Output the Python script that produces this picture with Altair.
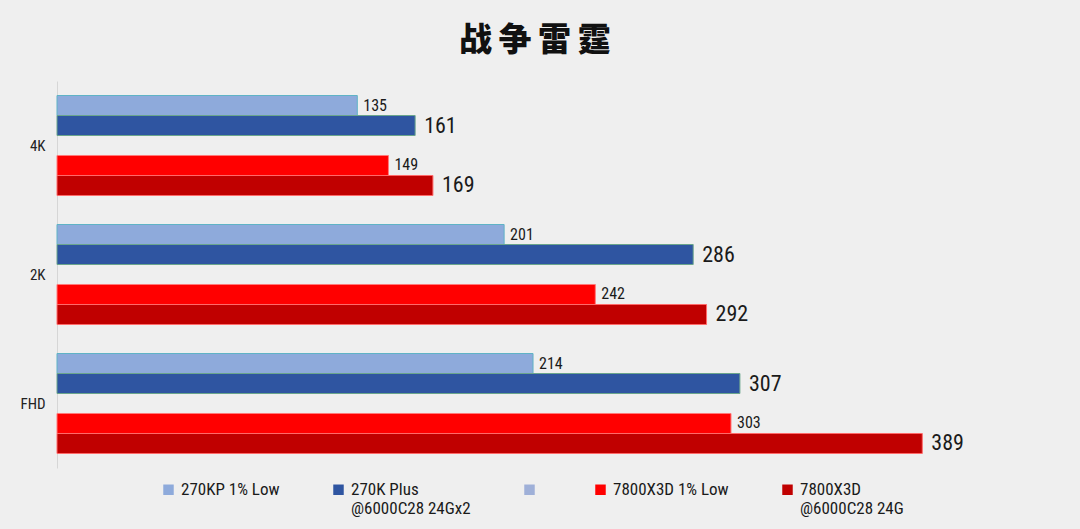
import altair as alt
import pandas as pd

categories = ["4K", "2K", "FHD"]
series = ["270KP 1% Low", "270K Plus|@6000C28 24Gx2", "_", "7800X3D 1% Low", "7800X3D|@6000C28 24G"]
colors = ["#8eaadb", "#2f55a1", "#9fb0d8", "#ff0000", "#c00000"]
strokes = ["#5fb3c6", "#6aa58c", "#e6e6a0", "#ff7a7a", "#ff6b6b"]
kp_low = [135, 201, 214]
kp_avg = [161, 286, 307]
x3d_low = [149, 242, 303]
x3d_avg = [169, 292, 389]

rows = []
for i, c in enumerate(categories):
    rows.append({"cat": c, "series": series[0], "value": kp_low[i], "big": 0})
    rows.append({"cat": c, "series": series[1], "value": kp_avg[i], "big": 1})
    rows.append({"cat": c, "series": series[3], "value": x3d_low[i], "big": 0})
    rows.append({"cat": c, "series": series[4], "value": x3d_avg[i], "big": 1})
df = pd.DataFrame(rows)

NUMFONT = "Roboto Condensed, Liberation Sans Narrow, DejaVu Sans Condensed, sans-serif"

y_enc = alt.Y("cat:N", sort=categories, title=None,
              scale=alt.Scale(paddingInner=0.225, paddingOuter=0.1125),
              axis=alt.Axis(labelFontSize=15, labelColor="#222222", labelFont=NUMFONT,
                            labelPadding=12, ticks=False, domainColor="#d6d6d6",
                            domainWidth=1, grid=False))
yoff = alt.YOffset("series:N", sort=series, scale=alt.Scale(domain=series, paddingInner=0, paddingOuter=0))
x_enc = alt.X("value:Q", scale=alt.Scale(domain=[0, 450]), axis=None)

base = alt.Chart(df)

label_expr = ("datum.label == '_' ? ['', ''] : "
              "(indexof(datum.label, '|') >= 0 ? split(datum.label, '|') : split(datum.label + '|', '|'))")

bars = base.mark_bar(strokeWidth=1).encode(
    x=x_enc, y=y_enc, yOffset=yoff,
    color=alt.Color("series:N", sort=series,
                    scale=alt.Scale(domain=series, range=colors),
                    legend=alt.Legend(title=None, orient="none", direction="horizontal",
                                      columns=5, legendX=103, legendY=400,
                                      symbolType="square", symbolSize=110,
                                      symbolStrokeWidth=0,
                                      labelFontSize=17, labelFont=NUMFONT,
                                      labelColor="#1a1a1a", labelLimit=300,
                                      columnPadding=50, labelOffset=4,
                                      labelBaseline="middle",
                                      labelExpr=label_expr)),
    stroke=alt.Stroke("series:N", sort=series,
                      scale=alt.Scale(domain=series, range=strokes), legend=None),
)

small = base.transform_filter("datum.big == 0").mark_text(
    align="left", baseline="middle", dx=6, fontSize=16, font=NUMFONT, color="#1a1a1a"
).encode(x=x_enc, y=y_enc, yOffset=yoff, text="value:Q")

big = base.transform_filter("datum.big == 1").mark_text(
    align="left", baseline="middle", dx=9, fontSize=22, font=NUMFONT, color="#1a1a1a"
).encode(x=x_enc, y=y_enc, yOffset=yoff, text="value:Q")

chart = alt.layer(bars, small, big).properties(
    width=1001, height=387,
    autosize=alt.AutoSizeParams(type="none"),
    padding={"left": 57, "top": 81, "right": 22, "bottom": 61},
    background="#efefef",
    title=alt.Title("战\u2009争\u2009雷\u2009霆", font="Noto Sans CJK SC", fontSize=33,
                    fontWeight=900, color="#111111", anchor="start", dx=439, dy=36,
                    baseline="bottom", offset=26),
).configure_view(stroke=None)

chart.save("out.html", embed_options={"renderer": "svg", "actions": False})
